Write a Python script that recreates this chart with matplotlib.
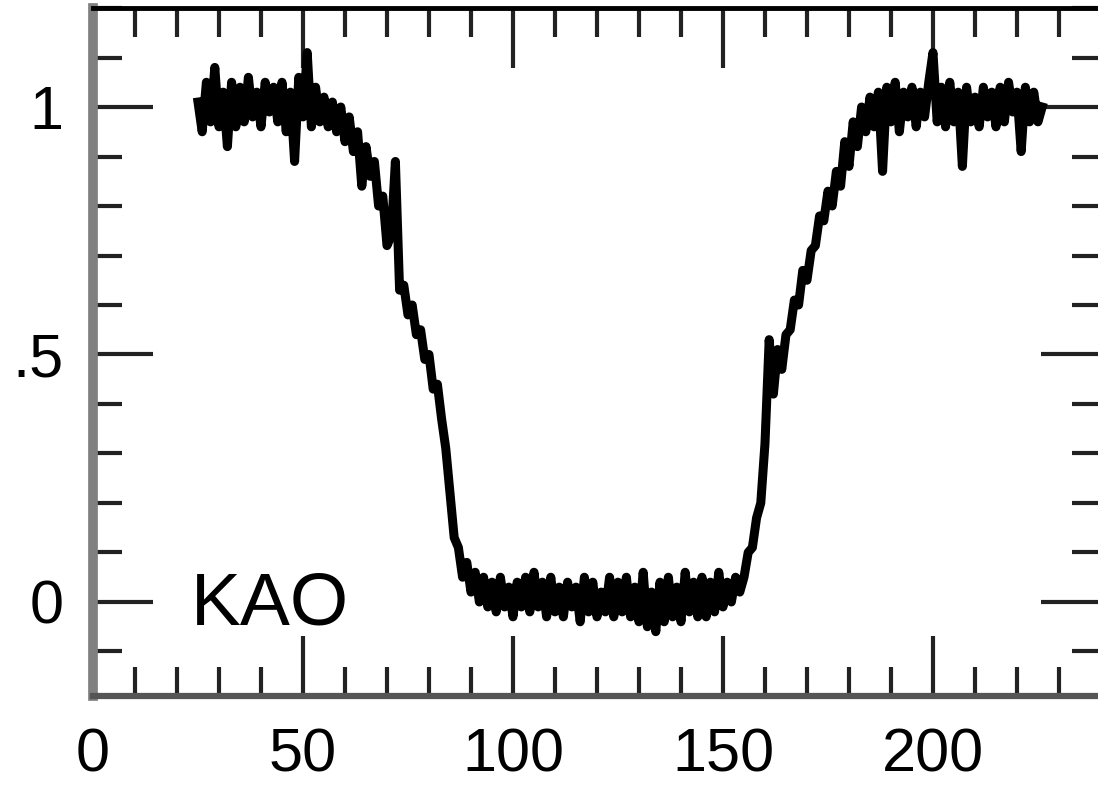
import numpy as np
import matplotlib.pyplot as plt
from matplotlib.ticker import MultipleLocator

plt.rcParams['font.family'] = ['Liberation Sans', 'DejaVu Sans']

# light curve: one sample per unit of time, from t=25 to t=226
t_start, t_stop = 25, 226
flux = [
    1.01, 0.95, 1.05, 0.97, 1.08, 0.96, 1.03, 0.92, 1.05, 0.96,
    1.04, 0.97, 1.06, 0.98, 1.03, 0.96, 1.05, 0.99, 1.04, 0.97,
    1.05, 0.95, 1.03, 0.89, 1.06, 0.98, 1.11, 0.96, 1.04, 0.97,
    1.02, 0.96, 1.01, 0.95, 1.00, 0.93, 0.98, 0.91, 0.95, 0.84,
    0.92, 0.86, 0.89, 0.80, 0.82, 0.72, 0.74, 0.89, 0.63, 0.64,
    0.58, 0.60, 0.54, 0.55, 0.49, 0.50, 0.43, 0.44, 0.37, 0.31,
    0.22, 0.13, 0.11, 0.05, 0.08, 0.02, 0.06, 0.00, 0.05, -0.01,
    0.04, -0.02, 0.05, -0.01, 0.03, -0.03, 0.04, -0.01, 0.05, -0.02,
    0.06, -0.01, 0.04, -0.03, 0.05, -0.02, 0.03, -0.03, 0.04, -0.01,
    0.03, -0.04, 0.05, -0.02, 0.04, -0.03, 0.02, -0.02, 0.05, -0.03,
    0.04, -0.02, 0.05, -0.03, 0.03, -0.04, 0.06, -0.05, 0.02, -0.06,
    0.04, -0.04, 0.05, -0.03, 0.03, -0.04, 0.06, -0.02, 0.04, -0.03,
    0.05, -0.03, 0.04, -0.02, 0.06, -0.01, 0.04, 0.00, 0.05, 0.02,
    0.05, 0.10, 0.11, 0.17, 0.20, 0.32, 0.53, 0.42, 0.51, 0.47,
    0.54, 0.55, 0.61, 0.60, 0.67, 0.65, 0.71, 0.72, 0.78, 0.77,
    0.83, 0.80, 0.87, 0.84, 0.93, 0.88, 0.97, 0.92, 1.00, 0.95,
    1.02, 0.96, 1.03, 0.87, 1.04, 0.97, 1.05, 0.95, 1.03, 0.98,
    1.04, 0.96, 1.03, 0.98, 1.05, 1.11, 0.97, 1.04, 0.96, 1.05,
    0.97, 1.03, 0.88, 1.04, 0.97, 1.02, 0.96, 1.04, 0.98, 1.03,
    0.96, 1.04, 0.97, 1.05, 0.99, 1.03, 0.91, 1.04, 0.97, 1.03,
    0.97, 1.00,
]
time = np.arange(t_start, t_stop + 1)

x_major = [0, 50, 100, 150, 200]
x_labels = ['0', '50', '100', '150', '200']
y_major = [0, 0.5, 1]
y_labels = ['0', '.5', '1']
station = 'KAO'

fig = plt.figure(figsize=(10.98, 7.87), dpi=100)
ax = fig.add_axes([0.0847, 0.1156, 0.918, 0.8742])

ax.plot(time, flux, color='black', lw=6.5, solid_joinstyle='round')

ax.set_xlim(0, 240)
ax.set_ylim(-0.19, 1.2)
ax.set_xticks(x_major)
ax.set_xticklabels(x_labels)
ax.set_yticks(y_major)
ax.set_yticklabels(y_labels)
ax.xaxis.set_minor_locator(MultipleLocator(10))
ax.yaxis.set_minor_locator(MultipleLocator(0.1))

ax.tick_params(which='both', direction='in', top=True, right=True,
               width=3, color='#222222')
ax.tick_params(which='major', length=43)
ax.tick_params(which='minor', length=21)
ax.tick_params(axis='x', which='major', pad=23, labelsize=44)
ax.tick_params(axis='y', which='major', pad=21, labelsize=44)

ax.spines['left'].set_color('#808080')
ax.spines['left'].set_linewidth(7)
ax.spines['bottom'].set_color('#555555')
ax.spines['bottom'].set_linewidth(4.5)
ax.spines['top'].set_color('black')
ax.spines['top'].set_linewidth(3.5)
ax.spines['right'].set_visible(False)

ax.text(23.3, -0.046, station, fontsize=54, va='baseline', ha='left')

fig.savefig('out.png', dpi=100)
